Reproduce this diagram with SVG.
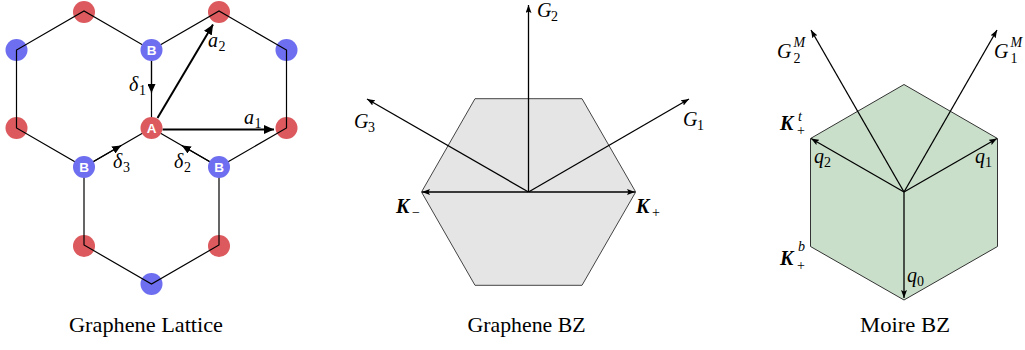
<svg xmlns="http://www.w3.org/2000/svg" width="1025" height="350" viewBox="0 0 1025 350">
<style>
.bond{stroke:#000;stroke-width:1.2;fill:none}
.vec{stroke:#000;stroke-width:1.3;fill:none}
.thick{stroke:#000;stroke-width:2;fill:none}
.red{fill:#dc5a5e}
.blue{fill:#6e6ef0}
.lbl{font-family:"Liberation Sans",Arial,sans-serif;font-weight:bold;font-size:13.5px;fill:#fff;text-anchor:middle}
.m{font-family:"Liberation Serif","DejaVu Serif",serif;font-style:italic;font-size:20px;fill:#000}
.s{font-family:"Liberation Serif","DejaVu Serif",serif;font-style:normal;font-size:14px;fill:#000}
.si{font-family:"Liberation Serif","DejaVu Serif",serif;font-style:italic;font-size:14px;fill:#000}
.kb{font-family:"Liberation Serif","DejaVu Serif",serif;font-style:italic;font-weight:bold;font-size:20px;fill:#000}
.cap{font-family:"Liberation Serif","DejaVu Serif",serif;font-size:21px;fill:#000}
</style>
<defs>
<marker id="sm" markerUnits="userSpaceOnUse" viewBox="0 0 8 6" markerWidth="8" markerHeight="6" refX="8" refY="3" orient="auto"><path d="M0,0 L8,3 L0,6 L1.5,3 z" fill="#000"/></marker>
<marker id="big" markerUnits="userSpaceOnUse" viewBox="0 0 10 9" markerWidth="10" markerHeight="9" refX="10" refY="4.5" orient="auto"><path d="M0,0 L10,4.5 L0,9 z" fill="#000"/></marker>
<marker id="mid" markerUnits="userSpaceOnUse" viewBox="0 0 9 8" markerWidth="9" markerHeight="8" refX="9" refY="4" orient="auto"><path d="M0,0 L9,4 L0,8 z" fill="#000"/></marker>
</defs>

<!-- Panel 1: Graphene lattice -->
<g id="plain-atoms">
<circle class="red" cx="84" cy="12" r="11"/>
<circle class="red" cx="219" cy="12" r="11"/>
<circle class="blue" cx="16.5" cy="50" r="11"/>
<circle class="blue" cx="286.5" cy="50" r="11"/>
<circle class="red" cx="16.5" cy="128" r="11"/>
<circle class="red" cx="286.5" cy="128" r="11"/>
<circle class="red" cx="84" cy="246" r="11"/>
<circle class="red" cx="219" cy="246" r="11"/>
<circle class="blue" cx="151.5" cy="284" r="11"/>
</g>
<g id="graphene-bz">
<polygon points="475,98.7 582,98.7 635.7,192 582,285.3 475,285.3 421.5,192" fill="#e5e5e5" stroke="#444" stroke-width="1"/>
</g>
<g id="moire-bz">
<polygon points="904,84.5 997.5,138.5 997.5,246.5 904,300 810.5,246.5 810.5,138.5" fill="#c9dfca" stroke="#333" stroke-width="1"/>
</g>
<g id="connectors">
<path class="bond" d="M151.5,128 L84,167 L16.5,128 L16.5,50 L84,11 L151.5,50 L151.5,128"/>
<path class="bond" d="M151.5,50 L219,11 L286.5,50 L286.5,128 L219,167 L151.5,128"/>
<path class="bond" d="M84,167 L84,245 L151.5,284 L219,245 L219,167"/>
<line class="bond" x1="151.5" y1="50" x2="151.5" y2="93" marker-end="url(#mid)"/>
<line class="bond" x1="219" y1="167" x2="181.8" y2="145.5" marker-end="url(#mid)"/>
<line class="bond" x1="84" y1="167" x2="121.2" y2="145.5" marker-end="url(#mid)"/>
<line class="thick" x1="162.5" y1="129.5" x2="274" y2="129.5" marker-end="url(#big)"/>
<line class="thick" x1="157.5" y1="118" x2="213" y2="24.5" marker-end="url(#big)"/>
<line class="vec" x1="528.5" y1="192" x2="528.5" y2="5" marker-end="url(#sm)"/>
<line class="vec" x1="528.5" y1="192" x2="689" y2="99" marker-end="url(#sm)"/>
<line class="vec" x1="528.5" y1="192" x2="367" y2="99" marker-end="url(#sm)"/>
<line class="vec" x1="528.5" y1="192" x2="635" y2="192" marker-end="url(#sm)"/>
<line class="vec" x1="528.5" y1="192" x2="422" y2="192" marker-end="url(#sm)"/>
<line class="vec" x1="904" y1="192" x2="904" y2="298" marker-end="url(#sm)"/>
<line class="vec" x1="904" y1="192" x2="997" y2="138.5" marker-end="url(#sm)"/>
<line class="vec" x1="904" y1="192" x2="811" y2="138.5" marker-end="url(#sm)"/>
<line class="vec" x1="904" y1="192" x2="997" y2="30" marker-end="url(#sm)"/>
<line class="vec" x1="904" y1="192" x2="811" y2="30" marker-end="url(#sm)"/>
</g>
<g id="labeled-atoms">
<g id="atom-B-top"><circle class="blue" cx="151.5" cy="50" r="11"/><text class="lbl" x="151.5" y="55">B</text></g>
<g id="atom-A"><circle class="red" cx="151.5" cy="128" r="11"/><text class="lbl" x="151.5" y="133">A</text></g>
<g id="atom-B-left"><circle class="blue" cx="84" cy="167" r="11"/><text class="lbl" x="84" y="172">B</text></g>
<g id="atom-B-right"><circle class="blue" cx="219" cy="167" r="11"/><text class="lbl" x="219" y="172">B</text></g>
</g>
<g id="lattice-labels">
<text class="m" x="208" y="47">a</text><text class="s" x="218.5" y="51">2</text>
<text class="m" x="244" y="124">a</text><text class="s" x="254.5" y="128">1</text>
<text class="m" x="129" y="91">δ</text><text class="s" x="139" y="95">1</text>
<text class="m" x="113" y="168">δ</text><text class="s" x="123" y="172">3</text>
<text class="m" x="174" y="168">δ</text><text class="s" x="184" y="172">2</text>
</g>
<text class="cap" x="69" y="332" textLength="154" lengthAdjust="spacingAndGlyphs">Graphene Lattice</text>

<g id="bz-labels">
<text class="m" x="537" y="17">G</text><text class="s" x="551" y="21">2</text>
<text class="m" x="683" y="126">G</text><text class="s" x="697" y="130">1</text>
<text class="m" x="354" y="128">G</text><text class="s" x="368" y="132">3</text>
<text class="kb" x="396" y="213">K</text><text class="s" x="412" y="217">−</text>
<text class="kb" x="636" y="213">K</text><text class="s" x="652" y="217">+</text>
</g>
<text class="cap" x="467.5" y="332" textLength="118" lengthAdjust="spacingAndGlyphs">Graphene BZ</text>

<g id="moire-labels">
<text class="m" x="777" y="58">G</text><text class="si" x="793.5" y="47">M</text><text class="s" x="793.5" y="63">2</text>
<text class="m" x="994" y="58">G</text><text class="si" x="1010.5" y="47">M</text><text class="s" x="1010.5" y="63">1</text>
<text class="kb" x="780" y="130">K</text><text class="si" x="798" y="121">t</text><text class="s" x="797" y="135">+</text>
<text class="kb" x="780" y="265">K</text><text class="si" x="798" y="251">b</text><text class="s" x="797" y="270">+</text>
<text class="m" x="814" y="163">q</text><text class="s" x="824" y="167">2</text>
<text class="m" x="975" y="163">q</text><text class="s" x="985" y="167">1</text>
<text class="m" x="907" y="282">q</text><text class="s" x="917" y="286">0</text>
</g>
<text class="cap" x="860" y="332" textLength="90" lengthAdjust="spacingAndGlyphs">Moire BZ</text>
</svg>
